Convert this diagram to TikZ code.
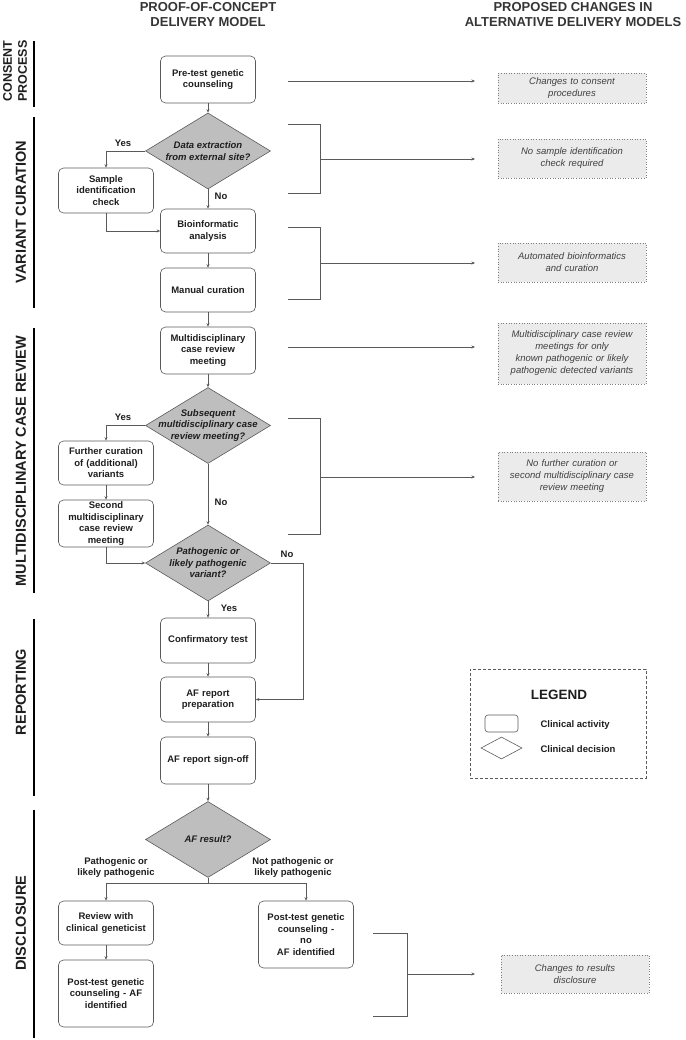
\documentclass[tikz,border=0pt]{standalone}
\usepackage{fontspec}
\setmainfont{Liberation Sans}
\usetikzlibrary{shapes.geometric,arrows.meta,calc}
\definecolor{lineg}{HTML}{5A5A5A}
\definecolor{dfill}{HTML}{BEBEBE}
\definecolor{rfill}{HTML}{EBEBEB}
\definecolor{txt}{HTML}{1E1E1E}
\begin{document}
\begin{tikzpicture}[x=1pt,y=-1pt,
  every node/.style={text=txt},
  activity/.style={draw=lineg, line width=0.6pt, rounded corners=5pt, minimum width=95pt, text width=90pt, align=center, inner sep=0.5pt, font=\fontsize{9.5}{11.5}\selectfont\bfseries},
  decision/.style={draw=lineg, fill=dfill, diamond, minimum width=125pt, minimum height=76pt, inner sep=0pt, line width=0.6pt},
  dtext/.style={align=center, font=\fontsize{9.5}{11.5}\selectfont\bfseries\itshape},
  change/.style={draw=gray, dotted, line width=0.6pt, fill=rfill, minimum width=148pt, text width=140pt, align=center, font=\fontsize{9.5}{12}\selectfont\itshape, text=txt!85},
  flow/.style={draw=lineg, line width=0.6pt, -{Stealth[length=3.5pt,width=3pt]}},
  plain/.style={draw=lineg, line width=0.6pt},
  lbl/.style={font=\fontsize{9.5}{11.5}\selectfont\bfseries, align=center},
  sect/.style={rotate=90, font=\fontsize{14.5}{13}\selectfont\bfseries, align=center},
  sline/.style={draw=black, line width=1.1pt},
  hdr/.style={font=\fontsize{13}{15.5}\selectfont\bfseries, align=center, text=txt!90}
]
\useasboundingbox (0,0) rectangle (685,1040);

% headers
\node[hdr] (h1) at (208,14.5) {PROOF-OF-CONCEPT\\DELIVERY MODEL};
\node[hdr] (h2) at (573,14.5) {PROPOSED CHANGES IN\\ALTERNATIVE DELIVERY MODELS};

% section labels
\node[sect, font=\fontsize{12.5}{15}\selectfont\bfseries] (s1) at (15,71) {CONSENT\\PROCESS};
\node[sect] (s2) at (21,212) {VARIANT CURATION};
\node[sect] (s3) at (21,461) {MULTIDISCIPLINARY CASE REVIEW};
\node[sect] (s4) at (21,692) {REPORTING};
\node[sect] (s5) at (21,923) {DISCLOSURE};
\draw[sline] (34,41) -- (34,107);
\draw[sline] (34,117) -- (34,308);
\draw[sline] (34,328) -- (34,593);
\draw[sline] (34,619) -- (34,796);
\draw[sline] (34,810) -- (34,1038);

% main flow nodes
\node[activity, minimum height=47pt] (pre) at (208,79.5) {Pre-test genetic\\counseling};
\node[decision] (d1) at (208,151) {};
\node[dtext] (d1t) at (d1) {Data extraction\\from external site?};
\node[activity, minimum height=45pt] (sample) at (106,190.5) {Sample\\identification\\check};
\node[activity, minimum height=44pt] (bio) at (208,231) {Bioinformatic\\analysis};
\node[activity, minimum height=44pt] (manual) at (208,290) {Manual curation};
\node[activity, minimum height=47pt] (mdt) at (208,350.5) {Multidisciplinary\\case review\\meeting};
\node[decision] (d2) at (208,425.5) {};
\node[dtext] (d2t) at (d2) {Subsequent\\multidisciplinary case\\review meeting?};
\node[activity, minimum height=44pt] (further) at (106,463) {Further curation\\of (additional)\\variants};
\node[activity, minimum height=47pt] (second) at (106,523.5) {Second\\multidisciplinary\\case review\\meeting};
\node[decision] (d3) at (208,563) {};
\node[dtext] (d3t) at (d3) {Pathogenic or\\likely pathogenic\\variant?};
\node[activity, minimum height=45pt] (confirm) at (208,640.5) {Confirmatory test};
\node[activity, minimum height=45pt] (prep) at (208,699.5) {AF report\\preparation};
\node[activity, minimum height=47pt] (signoff) at (208,760.5) {AF report sign-off};
\node[decision] (d4) at (208,839.5) {};
\node[dtext] (d4t) at (d4) {AF result?};
\node[activity, minimum height=44pt] (review) at (106,923) {Review with\\clinical geneticist};
\node[activity, minimum height=67pt] (postaf) at (106,993.5) {Post-test genetic\\counseling - AF\\identified};
\node[activity, minimum height=67pt] (postno) at (306,934.5) {Post-test genetic\\counseling -\\no\\AF identified};

% branch labels
\node[lbl] (yes1) at (123,143) {Yes};
\node[lbl] (no1) at (221,196) {No};
\node[lbl] (yes2) at (123,417) {Yes};
\node[lbl] (no2) at (221,502) {No};
\node[lbl] (no3) at (287,554) {No};
\node[lbl] (yes3) at (229,608) {Yes};
\node[lbl] (path) at (116,867.5) {Pathogenic or\\likely pathogenic};
\node[lbl] (notpath) at (293,867.5) {Not pathogenic or\\likely pathogenic};

% proposed changes
\node[change, minimum height=30pt] (c1) at (572,88) {Changes to consent\\procedures};
\node[change, minimum height=39pt] (c2) at (572,158.5) {No sample identification\\check required};
\node[change, minimum height=39pt] (c3) at (572,262.5) {Automated bioinformatics\\and curation};
\node[change, minimum height=61pt] (c4) at (572,353.5) {Multidisciplinary case review\\meetings for only\\known pathogenic or likely\\pathogenic detected variants};
\node[change, minimum height=49pt] (c5) at (572,476.5) {No further curation or\\second multidisciplinary case\\review meeting};
\node[change, minimum height=38pt] (c6) at (575,974) {Changes to results\\disclosure};

% legend
\node[draw=lineg, line width=1pt, dash pattern=on 3pt off 2pt, minimum width=176pt, minimum height=109pt] (legend) at (558,723.5) {};
\node[font=\fontsize{13.5}{15}\selectfont\bfseries] (legt) at (559,695) {LEGEND};
\node[draw=lineg, rounded corners=3pt, minimum width=33pt, minimum height=17pt, line width=0.6pt] (lrect) at (501.5,723.5) {};
\node[draw=lineg, diamond, minimum width=41pt, minimum height=22pt, inner sep=0pt, line width=0.6pt] (ldia) at (501.5,748) {};
\node[lbl, anchor=west] (lt1) at (537,725) {Clinical activity};
\node[lbl, anchor=west] (lt2) at (537,749) {Clinical decision};

% main connectors
\draw[flow] (pre) -- (d1);
\draw[flow] (d1.west) -| (sample.north);
\draw[flow] (d1.south) -- (bio.north);
\draw[flow] (sample.south) |- (bio.west);
\draw[flow] (bio) -- (manual);
\draw[flow] (manual) -- (mdt);
\draw[flow] (mdt) -- (d2);
\draw[flow] (d2.west) -| (further.north);
\draw[flow] (further) -- (second);
\draw[flow] (d2.south) -- (d3.north);
\draw[flow] (second.south) |- (d3.west);
\draw[flow] (d3.south) -- (confirm.north);
\draw[flow] (d3.east) -- ++(32,0) |- (prep.east);
\draw[flow] (confirm) -- (prep);
\draw[flow] (prep) -- (signoff);
\draw[flow] (signoff) -- (d4);
\coordinate (split) at (208,883);
\draw[plain] (d4.south) -- (split);
\draw[flow] (split) -| (review.north);
\draw[flow] (split) -| (postno.north);
\draw[flow] (review) -- (postaf);

% brackets and arrows to proposed changes
\coordinate (a0s) at (288,81); \coordinate (a0e) at (475,81);
\draw[flow] (a0s) -- (a0e);
\coordinate (b1a) at (288,124); \coordinate (b1b) at (320,124); \coordinate (b1c) at (320,193); \coordinate (b1d) at (288,193);
\coordinate (b1m) at (320,159); \coordinate (b1e) at (475,159);
\draw[plain] (b1a) -- (b1b) -- (b1c) -- (b1d);
\draw[flow] (b1m) -- (b1e);
\coordinate (b2a) at (288,227); \coordinate (b2b) at (320,227); \coordinate (b2c) at (320,299); \coordinate (b2d) at (288,299);
\coordinate (b2m) at (320,263); \coordinate (b2e) at (475,263);
\draw[plain] (b2a) -- (b2b) -- (b2c) -- (b2d);
\draw[flow] (b2m) -- (b2e);
\coordinate (a3s) at (288,347); \coordinate (a3e) at (475,347);
\draw[flow] (a3s) -- (a3e);
\coordinate (b3a) at (288,418); \coordinate (b3b) at (320,418); \coordinate (b3c) at (320,534); \coordinate (b3d) at (288,534);
\coordinate (b3m) at (320,477); \coordinate (b3e) at (475,477);
\draw[plain] (b3a) -- (b3b) -- (b3c) -- (b3d);
\draw[flow] (b3m) -- (b3e);
\coordinate (b4a) at (373,933); \coordinate (b4b) at (407,933); \coordinate (b4c) at (407,1016); \coordinate (b4d) at (373,1016);
\coordinate (b4m) at (407,974); \coordinate (b4e) at (475,974);
\draw[plain] (b4a) -- (b4b) -- (b4c) -- (b4d);
\draw[flow] (b4m) -- (b4e);
\end{tikzpicture}
\end{document}
